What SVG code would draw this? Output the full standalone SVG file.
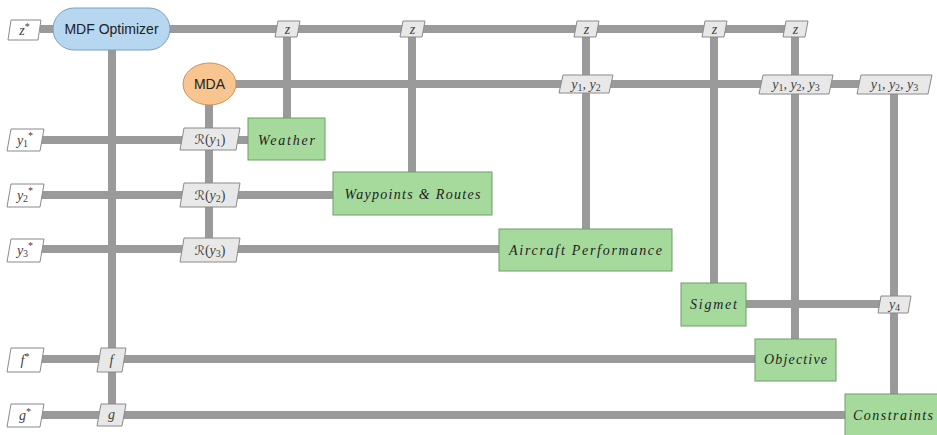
<svg xmlns="http://www.w3.org/2000/svg" width="937" height="435" viewBox="0 0 937 435">
<style>
.ln{stroke:#9a9a9a;stroke-width:8;fill:none}
.fn{fill:#a6da9d;stroke:#6e9c68;stroke-width:1}
.dat{fill:#e8e8e8;stroke:#8a8a8a;stroke-width:1}
.inp{fill:#ffffff;stroke:#8a8a8a;stroke-width:1}
.ft{font-family:"Liberation Serif",serif;font-style:italic;font-size:14px;fill:#222;text-anchor:middle;dominant-baseline:central}
.dt{font-family:"Liberation Serif",serif;font-style:italic;font-size:14px;fill:#444;text-anchor:middle;dominant-baseline:central}
.st{font-family:"Liberation Serif",serif;font-style:normal;font-size:10px}
.cal{font-family:"DejaVu Serif","DejaVu Sans",serif;font-style:normal;font-size:13px}
.up{font-style:normal}
.sans{font-family:"Liberation Sans",Arial,sans-serif;font-size:14px;fill:#222;text-anchor:middle;dominant-baseline:central}
</style>
<rect width="937" height="435" fill="#ffffff"/>
<g id="connectors">
<line class="ln" x1="40" y1="29" x2="795" y2="29"/>
<line class="ln" x1="236" y1="84" x2="930" y2="84"/>
<line class="ln" x1="112" y1="50" x2="112" y2="424"/>
<line class="ln" x1="209" y1="105" x2="209" y2="258"/>
<line class="ln" x1="287" y1="29" x2="287" y2="118"/>
<line class="ln" x1="412" y1="29" x2="412" y2="172"/>
<line class="ln" x1="586" y1="29" x2="586" y2="229"/>
<line class="ln" x1="714" y1="29" x2="714" y2="283"/>
<line class="ln" x1="795" y1="29" x2="795" y2="339"/>
<line class="ln" x1="894" y1="84" x2="894" y2="394"/>
<line class="ln" x1="40" y1="140" x2="248" y2="140"/>
<line class="ln" x1="40" y1="195" x2="333" y2="195"/>
<line class="ln" x1="40" y1="249" x2="499" y2="249"/>
<line class="ln" x1="746" y1="304" x2="894" y2="304"/>
<line class="ln" x1="40" y1="359" x2="755" y2="359"/>
<line class="ln" x1="40" y1="415" x2="845" y2="415"/>
</g>
<g id="mdf">
<rect x="53" y="8" width="117" height="42" rx="21" fill="#b7d6f0" stroke="#7d9fc0"/>
<text class="sans" x="111.5" y="29">MDF Optimizer</text>
</g>
<g id="mda">
<ellipse cx="209.5" cy="84" rx="26.5" ry="21" fill="#f8c48f" stroke="#c9925e"/>
<text class="sans" x="209.5" y="84">MDA</text>
</g>
<g id="in_z">
<polygon class="inp" points="11,20 41,20 38,40 8,40"/>
<text class="dt" x="24.5" y="30">z<tspan class="st" dy="-4">*</tspan></text>
</g>
<g id="in_y1">
<polygon class="inp" points="11,129 44,129 40,151 7,151"/>
<text class="dt" x="25" y="140">y<tspan class="st" dy="3">1</tspan><tspan class="st" dy="-8">*</tspan></text>
</g>
<g id="in_y2">
<polygon class="inp" points="11,184 44,184 40,207 7,207"/>
<text class="dt" x="25" y="195">y<tspan class="st" dy="3">2</tspan><tspan class="st" dy="-8">*</tspan></text>
</g>
<g id="in_y3">
<polygon class="inp" points="11,239 44,239 40,262 7,262"/>
<text class="dt" x="25" y="250">y<tspan class="st" dy="3">3</tspan><tspan class="st" dy="-8">*</tspan></text>
</g>
<g id="in_f">
<polygon class="inp" points="11,348 44,348 40,372 7,372"/>
<text class="dt" x="25" y="360">f<tspan class="st" dy="-4">*</tspan></text>
</g>
<g id="in_g">
<polygon class="inp" points="11,404 44,404 40,427 7,427"/>
<text class="dt" x="25" y="415">g<tspan class="st" dy="-4">*</tspan></text>
</g>
<g id="d_z1"><polygon class="dat" points="278,21 300,21 297,37 275,37"/><text class="dt" x="287.5" y="29">z</text></g>
<g id="d_z2"><polygon class="dat" points="403,21 425,21 422,37 400,37"/><text class="dt" x="412.5" y="29">z</text></g>
<g id="d_z3"><polygon class="dat" points="577,21 599,21 596,37 574,37"/><text class="dt" x="586.5" y="29">z</text></g>
<g id="d_z4"><polygon class="dat" points="705,21 727,21 724,37 702,37"/><text class="dt" x="714.5" y="29">z</text></g>
<g id="d_z5"><polygon class="dat" points="786,21 808,21 805,37 783,37"/><text class="dt" x="795.5" y="29">z</text></g>
<g id="d_y12"><polygon class="dat" points="563,75 613,75 609,93 559,93"/><text class="dt" x="586" y="84">y<tspan class="st" dy="3">1</tspan><tspan dy="-3">, y</tspan><tspan class="st" dy="3">2</tspan></text></g>
<g id="d_y123a"><polygon class="dat" points="763,75 833,75 829,94 759,94"/><text class="dt" x="796" y="84">y<tspan class="st" dy="3">1</tspan><tspan dy="-3">, y</tspan><tspan class="st" dy="3">2</tspan><tspan dy="-3">, y</tspan><tspan class="st" dy="3">3</tspan></text></g>
<g id="d_y123b"><polygon class="dat" points="861,75 932,75 928,94 857,94"/><text class="dt" x="894.5" y="84">y<tspan class="st" dy="3">1</tspan><tspan dy="-3">, y</tspan><tspan class="st" dy="3">2</tspan><tspan dy="-3">, y</tspan><tspan class="st" dy="3">3</tspan></text></g>
<g id="d_r1"><polygon class="dat" points="184,128 240,128 236,150 180,150"/><text class="dt" x="210" y="139"><tspan class="cal">ℛ</tspan><tspan class="up">(</tspan>y<tspan class="st" dy="3">1</tspan><tspan class="up" dy="-3">)</tspan></text></g>
<g id="d_r2"><polygon class="dat" points="184,183 240,183 236,207 180,207"/><text class="dt" x="210" y="195"><tspan class="cal">ℛ</tspan><tspan class="up">(</tspan>y<tspan class="st" dy="3">2</tspan><tspan class="up" dy="-3">)</tspan></text></g>
<g id="d_r3"><polygon class="dat" points="184,238 240,238 236,262 180,262"/><text class="dt" x="210" y="250"><tspan class="cal">ℛ</tspan><tspan class="up">(</tspan>y<tspan class="st" dy="3">3</tspan><tspan class="up" dy="-3">)</tspan></text></g>
<g id="d_f"><polygon class="dat" points="101,348 126,348 122,372 97,372"/><text class="dt" x="111.5" y="360">f</text></g>
<g id="d_g"><polygon class="dat" points="101,404 126,404 122,426 97,426"/><text class="dt" x="111.5" y="414">g</text></g>
<g id="d_y4"><polygon class="dat" points="881,296 911,296 908,313 878,313"/><text class="dt" x="894.5" y="304">y<tspan class="st" dy="3">4</tspan></text></g>
<g id="weather"><rect class="fn" x="248" y="118" width="77" height="42"/><text class="ft" x="286.5" y="140" textLength="57" lengthAdjust="spacing">Weather</text></g>
<g id="waypoints"><rect class="fn" x="333" y="172" width="159" height="43"/><text class="ft" x="412.5" y="194" textLength="136" lengthAdjust="spacing">Waypoints &amp; Routes</text></g>
<g id="aircraft"><rect class="fn" x="499" y="229" width="173" height="42"/><text class="ft" x="585.5" y="250" textLength="153" lengthAdjust="spacing">Aircraft Performance</text></g>
<g id="sigmet"><rect class="fn" x="681" y="283" width="65" height="43"/><text class="ft" x="713.5" y="304" textLength="47" lengthAdjust="spacing">Sigmet</text></g>
<g id="objective"><rect class="fn" x="755" y="339" width="81" height="42"/><text class="ft" x="795.5" y="359" textLength="63" lengthAdjust="spacing">Objective</text></g>
<g id="constraints"><rect class="fn" x="845" y="394" width="96" height="44"/><text class="ft" x="893" y="415" textLength="80" lengthAdjust="spacing">Constraints</text></g>
</svg>
